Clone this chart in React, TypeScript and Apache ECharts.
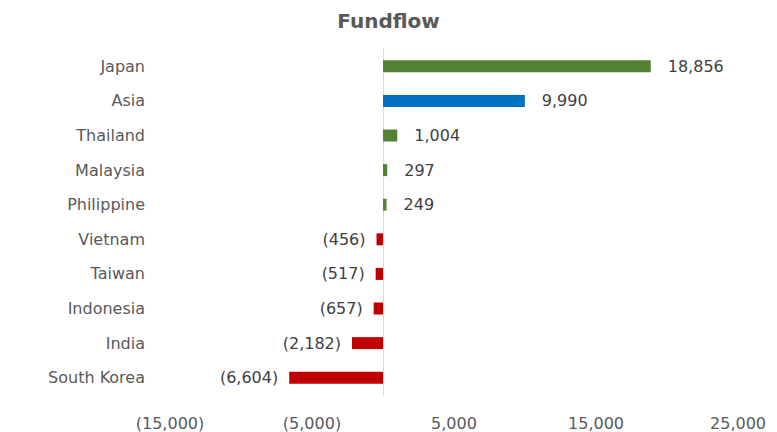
import React, { useEffect, useRef } from "react";
import * as echarts from "echarts";

const categories = ["Japan", "Asia", "Thailand", "Malaysia", "Philippine", "Vietnam", "Taiwan", "Indonesia", "India", "South Korea"];
const values = [18856, 9990, 1004, 297, 249, -456, -517, -657, -2182, -6604];
const shownTicks = [-15000, -5000, 5000, 15000, 25000];

const fmt = (v: number) => {
  const s = Math.abs(v).toLocaleString("en-US");
  return v < 0 ? `(${s})` : s;
};

export default function App() {
  const ref = useRef<HTMLDivElement>(null);
  useEffect(() => {
    if (!ref.current) return;
    const chart = echarts.init(ref.current, null, { renderer: "svg" });
    const font = "DejaVu Sans";
    chart.setOption({
      animation: false,
      title: {
        text: "Fundflow",
        left: "center",
        top: 6,
        textStyle: { fontFamily: font, fontSize: 20, fontWeight: "bold", color: "#595959" },
      },
      grid: { left: 170, right: 39, top: 49, bottom: 37, containLabel: false },
      xAxis: {
        type: "value",
        min: -15000,
        max: 25000,
        interval: 5000,
        splitLine: { show: false },
        axisLine: { show: false },
        axisTick: { show: false },
        axisLabel: {
          margin: 20,
          fontFamily: font,
          fontSize: 16,
          color: "#595959",
          formatter: (v: number) => (shownTicks.includes(v) ? fmt(v) : ""),
        },
      },
      yAxis: {
        type: "category",
        data: categories,
        inverse: true,
        axisTick: { show: false },
        axisLine: { show: true, onZero: true, lineStyle: { color: "#d9d9d9", width: 1 } },
        axisLabel: { margin: 25, fontFamily: font, fontSize: 16, color: "#595959" },
      },
      series: [
        {
          type: "bar",
          barWidth: 12,
          data: values.map((v, i) => ({
            value: v,
            itemStyle: {
              color: categories[i] === "Asia" ? "#0070C0" : v >= 0 ? "#548235" : "#C00000",
            },
            label: {
              show: true,
              position: v >= 0 ? "right" : "left",
              distance: v >= 0 ? 17 : 11,
              formatter: () => fmt(v),
              fontFamily: font,
              fontSize: 16,
              color: "#404040",
            },
          })),
        },
      ],
    });
    return () => chart.dispose();
  }, []);
  return (
    <div
      ref={ref}
      style={{ position: "fixed", left: 0, top: 0, width: 777, height: 432, background: "#fff" }}
    />
  );
}
